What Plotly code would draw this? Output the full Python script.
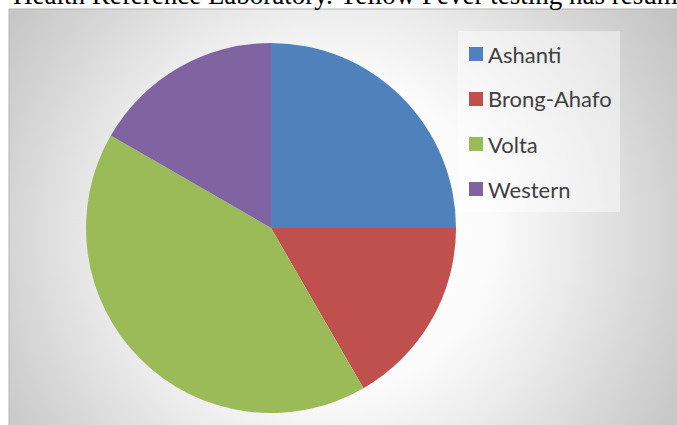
import base64
import plotly.graph_objects as go

# ---- data ----
regions = ["Ashanti", "Brong-Ahafo", "Volta", "Western"]
cases = [3, 2, 5, 2]
colors = ["#4F81BD", "#C0504D", "#9BBB59", "#8064A2"]
header_text = "Health Reference Laboratory. Yellow Fever testing has resumed"

W, H = 677, 425


def px(x):
    return x / W


def py(y):
    return 1 - y / H


# chart box (pixels)
bx0, by0, bx1, by1 = 9, 9, 677, 425
bw, bh = bx1 - bx0, by1 - by0

svg = (
    f'<svg xmlns="http://www.w3.org/2000/svg" width="{bw}" height="{bh}">'
    '<defs><radialGradient id="g" gradientUnits="userSpaceOnUse" '
    f'cx="{335 - bx0}" cy="{235 - by0}" r="410">'
    '<stop offset="0" stop-color="#ffffff"/>'
    '<stop offset="0.38" stop-color="#fbfbfb"/>'
    '<stop offset="0.56" stop-color="#ececec"/>'
    '<stop offset="0.8" stop-color="#d4d4d4"/>'
    '<stop offset="1" stop-color="#c2c2c2"/>'
    '</radialGradient></defs>'
    f'<rect width="{bw}" height="{bh}" fill="url(#g)"/></svg>'
)
src = "data:image/svg+xml;base64," + base64.b64encode(svg.encode()).decode()

fig = go.Figure()
fig.add_trace(
    go.Pie(
        labels=regions,
        values=cases,
        marker=dict(colors=colors, line=dict(width=0)),
        sort=False,
        direction="clockwise",
        rotation=0,
        textinfo="none",
        showlegend=False,
        domain=dict(x=[px(86), px(456)], y=[py(413), py(43)]),
    )
)

shapes = [
    dict(type="rect", xref="paper", yref="paper",
         x0=px(bx0), x1=px(bx1 + 2), y0=py(by1 + 2), y1=py(by0),
         line=dict(color="#b5b5b5", width=1), fillcolor="rgba(0,0,0,0)", layer="above"),
    dict(type="rect", xref="paper", yref="paper",
         x0=px(458), x1=px(620), y0=py(212), y1=py(31),
         line=dict(width=0), fillcolor="rgba(255,255,255,0.45)", layer="below"),
]
annotations = [
    dict(text=header_text, xref="paper", yref="paper", x=px(11), y=py(-5),
         xanchor="left", yanchor="middle", showarrow=False,
         font=dict(family="Liberation Serif", size=27, color="#000000")),
]
for i, (lab, col) in enumerate(zip(regions, colors)):
    cy = 54 + 45 * i
    shapes.append(dict(type="rect", xref="paper", yref="paper",
                       x0=px(469), x1=px(483), y0=py(cy + 7), y1=py(cy - 7),
                       line=dict(width=0), fillcolor=col))
    annotations.append(dict(text=lab, xref="paper", yref="paper",
                            x=px(486), y=py(cy), xanchor="left", yanchor="middle",
                            showarrow=False,
                            font=dict(family="Lato", size=22, color="#404040")))

fig.update_layout(
    width=W, height=H,
    margin=dict(l=0, r=0, t=0, b=0),
    paper_bgcolor="white",
    plot_bgcolor="rgba(0,0,0,0)",
    images=[dict(source=src, xref="paper", yref="paper",
                 x=px(bx0), y=py(by0), sizex=bw / W, sizey=bh / H,
                 xanchor="left", yanchor="top", sizing="stretch", layer="below")],
    shapes=shapes,
    annotations=annotations,
)

fig.write_html("out.html", config={"displayModeBar": False},
               post_script="document.body.style.margin='0';")
